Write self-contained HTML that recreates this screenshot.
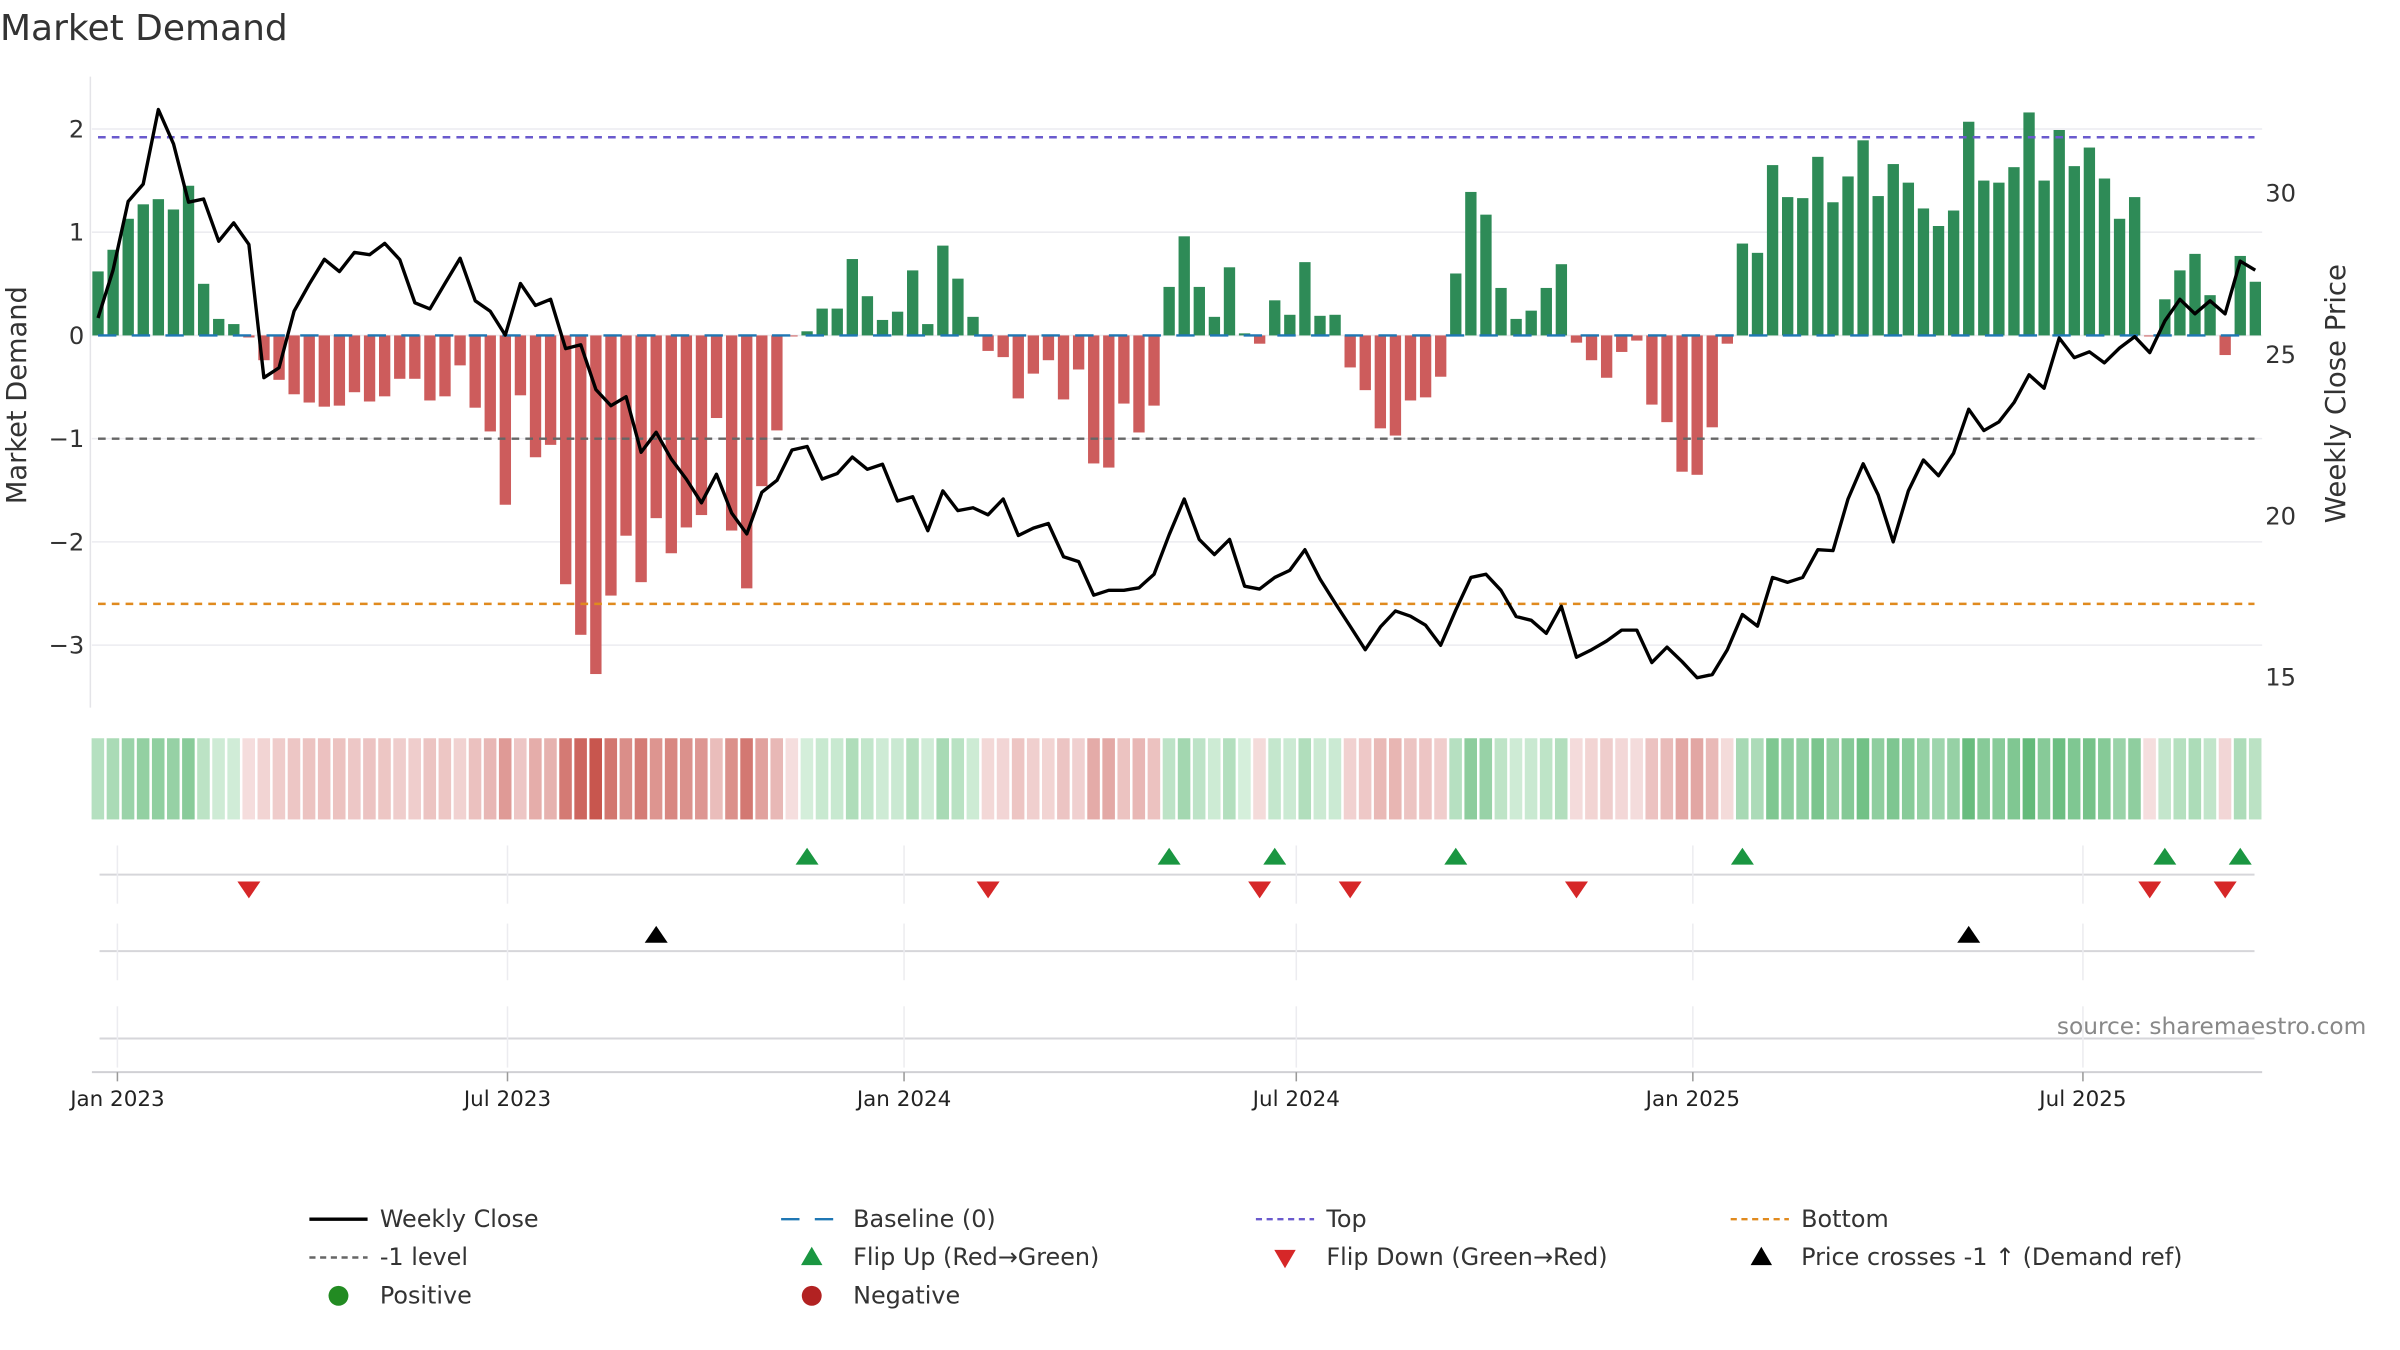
<!DOCTYPE html>
<html><head><meta charset="utf-8"><title>Market Demand</title>
<style>
html,body{margin:0;padding:0;background:#fff;}
svg{display:block;font-family:"DejaVu Sans","Liberation Sans",sans-serif;}
</style></head>
<body>
<svg id="chart" width="2400" height="1350" viewBox="0 0 1567 881.4" preserveAspectRatio="none" xmlns="http://www.w3.org/2000/svg">
<text x="0" y="26" font-size="23.5" fill="#333">Market Demand</text>
<g id="grid"></g>
<g id="heat"></g>
<g id="bars"></g>
<g id="refs"></g>
<g id="price"></g>
<g id="panels"></g>
<g id="axes"></g>
<text transform="translate(17,258) rotate(-90)" text-anchor="middle" font-size="17.8" fill="#333">Market Demand</text>
<text transform="translate(1531,257) rotate(-90)" text-anchor="middle" font-size="18" fill="#333">Weekly Close Price</text>
<text x="1545" y="675" text-anchor="end" font-size="15.2" fill="#888">source: sharemaestro.com</text>
<g id="legend"></g>
</svg>
<script>
const demand = [0.62,0.83,1.13,1.27,1.32,1.22,1.45,0.50,0.16,0.11,-0.02,-0.24,-0.43,-0.57,-0.65,-0.69,-0.68,-0.55,-0.64,-0.59,-0.42,-0.42,-0.63,-0.59,-0.29,-0.70,-0.93,-1.64,-0.58,-1.18,-1.06,-2.41,-2.90,-3.28,-2.52,-1.94,-2.39,
-1.77,-2.11,-1.86,-1.74,-0.80,-1.89,-2.45,-1.46,-0.92,-0.01,0.04,0.26,0.26,0.74,0.38,0.15,0.23,0.63,0.11,0.87,0.55,0.18,-0.15,-0.21,-0.61,-0.37,-0.24,-0.62,-0.33,-1.24,-1.28,-0.66,-0.94,-0.68,0.47,0.96,0.47,
0.18,0.66,0.02,-0.08,0.34,0.20,0.71,0.19,0.20,-0.31,-0.53,-0.90,-0.97,-0.63,-0.60,-0.40,0.60,1.39,1.17,0.46,0.16,0.24,0.46,0.69,-0.07,-0.24,-0.41,-0.16,-0.05,-0.67,-0.84,-1.32,-1.35,-0.89,-0.08,0.89,
0.80,1.65,1.34,1.33,1.73,1.29,1.54,1.89,1.35,1.66,1.48,1.23,1.06,1.21,2.07,1.50,1.48,1.63,2.16,1.50,1.99,1.64,1.82,1.52,1.13,1.34,-0.01,0.35,0.63,0.79,0.39,-0.19,0.77,0.52];
const closePrice = [26.11,27.59,29.72,30.26,32.57,31.50,29.70,29.80,28.49,29.06,28.39,24.26,24.57,26.32,27.16,27.93,27.55,28.14,28.07,28.42,27.92,26.58,26.39,27.18,27.96,26.64,26.32,25.58,27.18,26.50,26.69,25.16,25.28,23.89,23.39,23.67,21.95,
22.57,21.74,21.12,20.38,21.27,20.07,19.42,20.71,21.08,22.02,22.13,21.12,21.29,21.80,21.42,21.58,20.44,20.57,19.52,20.75,20.14,20.23,20.01,20.50,19.37,19.60,19.74,18.71,18.56,17.52,17.67,17.67,17.75,18.17,19.40,20.50,19.25,
18.78,19.25,17.80,17.71,18.07,18.29,18.93,18.02,17.28,16.56,15.83,16.54,17.03,16.87,16.59,15.97,17.06,18.07,18.17,17.67,16.86,16.74,16.34,17.18,15.60,15.83,16.10,16.44,16.44,15.43,15.91,15.46,14.96,15.06,15.83,16.92,
16.56,18.07,17.92,18.07,18.93,18.90,20.50,21.59,20.63,19.17,20.75,21.71,21.22,21.92,23.28,22.62,22.89,23.49,24.35,23.93,25.49,24.88,25.06,24.72,25.18,25.53,25.04,26.02,26.69,26.24,26.64,26.24,27.87,27.59];
const crossIdx = [37,124];
const demandTicks = [2,1,0,-1,-2,-3];
const priceTicks = [15,20,25,30];
const dateTickLabels = ["Jan 2023","Jul 2023","Jan 2024","Jul 2024","Jan 2025","Jul 2025"];
const dateTickDays = [9,190,374,556,740,921]; // days since first week (2022-12-23)
const topLevel = 1.92, minusLevel = -1, bottomLevel = -2.6;

const NS="http://www.w3.org/2000/svg";
function mk(tag,attrs,parent,text){const e=document.createElementNS(NS,tag);for(const k in attrs)e.setAttribute(k,attrs[k]);if(text!==undefined)e.textContent=text;parent.appendChild(e);return e;}
const X0=64, STEP=9.85, PL=60, PR=1477;
const xIdx=i=>X0+i*STEP;
const yD=v=>219-v*67.4;
const yP=p=>231-(p-25)*21.07;
const g=id=>document.getElementById(id);

demandTicks.forEach(t=>{const l=mk('line',{x1:PL,x2:PR,y1:yD(t),y2:yD(t),stroke:'#ececf0','stroke-width':1},g('grid'));
 const tx=mk('text',{x:55,y:yD(t)+5.5,'text-anchor':'end','font-size':15.8,fill:'#333'},g('axes'),(t<0?'\u2212':'')+Math.abs(t));});
priceTicks.forEach(t=>{const tx=mk('text',{x:1479,y:yP(t)+6,'font-size':15.8,fill:'#333'},g('axes'),String(t));});
mk('line',{x1:59,x2:59,y1:50,y2:462,stroke:'#e4e4e8','stroke-width':1},g('axes'));

demand.forEach((v,i)=>{const y=yD(Math.max(v,0)),h=Math.abs(v)*67.4;
 const r=mk('rect',{x:xIdx(i)-3.7,y:y,width:7.4,height:Math.max(h,0.3),fill:v>=0?'#2e8b57':'#cd5c5c'},g('bars'));
 });

[[0,'#1f77b4','12 10',1.6,'baseline-line'],[topLevel,'#6a5acd','5 4',1.6,'top-line'],[minusLevel,'#666','5 4',1.6,'minus-one-line'],[bottomLevel,'#e08a1e','5 4',1.6,'bottom-line']].forEach(a=>{
 const l=mk('line',{x1:64,x2:1472,y1:yD(a[0]),y2:yD(a[0]),stroke:a[1],'stroke-dasharray':a[2],'stroke-width':a[3]},g('refs'));
 });

const pl=mk('polyline',{points:closePrice.map((p,i)=>xIdx(i).toFixed(1)+','+yP(p).toFixed(1)).join(' '),fill:'none',stroke:'#000','stroke-width':2.2,'stroke-linejoin':'round'},g('price'));


const maxPos=Math.max(...demand), maxNeg=Math.max(...demand.map(v=>-v));
function mix(a,b,t){return 'rgb('+a.map((c,k)=>Math.round(c+(b[k]-c)*t)).join(',')+')';}
demand.forEach((v,i)=>{const t=v>=0?Math.min(1,v/maxPos):Math.min(1,-v/maxNeg);
 const col=v>=0?mix([214,239,220],[100,186,122],t):mix([245,222,222],[200,86,78],t);
 const r=mk('rect',{x:xIdx(i)-4.2,y:482,width:8.2,height:53,fill:col},g('heat'));
 });

[571,621,678].forEach(y=>{mk('line',{x1:65,x2:1472,y1:y,y2:y,stroke:'#d6d6da','stroke-width':1.3},g('panels'));});
mk('line',{x1:60,x2:1477,y1:700,y2:700,stroke:'#d0d0d4','stroke-width':1.3},g('axes'));
dateTickDays.forEach((d,k)=>{const x=xIdx(d/7);
 [[552,590],[603,640],[657,697]].forEach(s=>mk('line',{x1:x,x2:x,y1:s[0],y2:s[1],stroke:'#ececf0','stroke-width':1},g('panels')));
 mk('line',{x1:x,x2:x,y1:700,y2:706,stroke:'#999','stroke-width':1},g('axes'));
 const tx=mk('text',{x:x,y:722,'text-anchor':'middle','font-size':14,fill:'#222'},g('axes'),dateTickLabels[k]);
 });
function tri(x,y,up,col,name){const s=7.5,h=11;
 const p=up?`${x-s},${y+h/2} ${x+s},${y+h/2} ${x},${y-h/2}`:`${x-s},${y-h/2} ${x+s},${y-h/2} ${x},${y+h/2}`;
 const e=mk('polygon',{points:p,fill:col},g('panels'));}
for(let i=1;i<demand.length;i++){
 if(demand[i-1]<0&&demand[i]>=0)tri(xIdx(i),559,true,'#1a9641','flip-up-marker');
 if(demand[i-1]>=0&&demand[i]<0)tri(xIdx(i),581,false,'#d62728','flip-down-marker');}
crossIdx.forEach(i=>tri(xIdx(i),610,true,'#000','price-cross-marker'));

const L=g('legend');
function legText(x,y,t){const e=mk('text',{x:x,y:y+5,'font-size':15.6,fill:'#333'},L,t);}
mk('line',{x1:202,x2:240,y1:796,y2:796,stroke:'#000','stroke-width':2.2},L);legText(248,796,'Weekly Close');
mk('line',{x1:510,x2:548,y1:796,y2:796,stroke:'#1f77b4','stroke-width':1.6,'stroke-dasharray':'12 10'},L);legText(557,796,'Baseline (0)');
mk('line',{x1:820,x2:858,y1:796,y2:796,stroke:'#6a5acd','stroke-width':1.6,'stroke-dasharray':'4 3'},L);legText(866,796,'Top');
mk('line',{x1:1130,x2:1168,y1:796,y2:796,stroke:'#e08a1e','stroke-width':1.6,'stroke-dasharray':'4 3'},L);legText(1176,796,'Bottom');
mk('line',{x1:202,x2:240,y1:821,y2:821,stroke:'#666','stroke-width':1.6,'stroke-dasharray':'4 3'},L);legText(248,821,'-1 level');
mk('polygon',{points:'523,826 537,826 530,814',fill:'#1a9641'},L);legText(557,821,'Flip Up (Red\u2192Green)');
mk('polygon',{points:'832,816 846,816 839,828',fill:'#d62728'},L);legText(866,821,'Flip Down (Green\u2192Red)');
mk('polygon',{points:'1143,826 1157,826 1150,814',fill:'#000'},L);legText(1176,821,'Price crosses -1 \u2191 (Demand ref)');
mk('circle',{cx:221,cy:846,r:6.5,fill:'#228b22'},L);legText(248,846,'Positive');
mk('circle',{cx:530,cy:846,r:6.5,fill:'#b22222'},L);legText(557,846,'Negative');
</script>
</body></html>
